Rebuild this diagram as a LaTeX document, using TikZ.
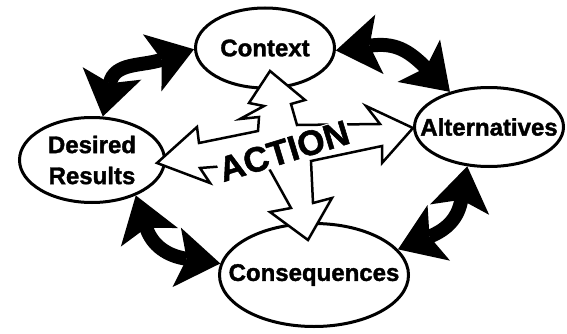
\documentclass[tikz,border=0pt]{standalone}
\usepackage{fontspec}
\setmainfont{Liberation Sans}[BoldFeatures={FakeBold=1.5}]
\usetikzlibrary{arrows.meta,shapes.geometric}

\begin{document}
\begin{tikzpicture}[x=1pt,y=1pt,
        stage/.style={ellipse,draw,line width=3pt,inner sep=0pt},
        note/.style={font=\fontsize{24}{31}\selectfont\bfseries,align=center},
        swing/.style={line width=14pt,looseness=1.25,
            {Stealth[length=44pt,width=60pt,inset=10pt,line width=0pt]}-{Stealth[length=44pt,width=60pt,inset=10pt,line width=0pt]}},
        hub/.style={draw,fill=white,line width=2.5pt,line join=miter}
    ]
    \useasboundingbox (0,0) rectangle (567,333);

    % --- Stages ---
    \node[stage,minimum width=139pt,minimum height=80pt,label={[note]center:Context}] (ctx) at (265,285) {};
    \node[stage,minimum width=145pt,minimum height=85pt,label={[note]center:Desired\\Results}] (des) at (92,173) {};
    \node[stage,minimum width=149pt,minimum height=79pt,label={[note]center:Alternatives}] (alt) at (489,206) {};
    \node[stage,minimum width=189pt,minimum height=103pt,label={[note]center:Consequences}] (con) at (314,58) {};

    % --- Cycle arrows between stages ---
    \draw[swing] (des.76) to[out=78,in=198] (ctx.181);
    \draw[swing] (ctx.-2) to[out=8,in=135] (alt.138);
    \draw[swing] (des.-39) to[out=-72,in=172] (con.173);
    \draw[swing] (alt.241) to[out=-100,in=22] (con.17);

    % --- Action arrows ---
    \draw[hub] (270,262) -- (305,233) -- (291,229) -- (297,208) -- (380,209) -- (366,227)
        -- (413,205) -- (382,170) -- (382,187) -- (311,172) -- (313,130) -- (332,135)
        -- (308,93) -- (270,121) -- (291,125) -- (266,170) -- (200,165) -- (210,150)
        -- (157,170) -- (197,206) -- (199,190) -- (258,202) -- (259,216) -- (240,214)
        -- (264,227) -- (249,230) -- cycle;
    \node[rotate=17,fill=white,inner sep=1pt,font=\fontsize{35}{35}\selectfont\bfseries] (act) at (284,182) {ACTION};

\end{tikzpicture}
\end{document}
